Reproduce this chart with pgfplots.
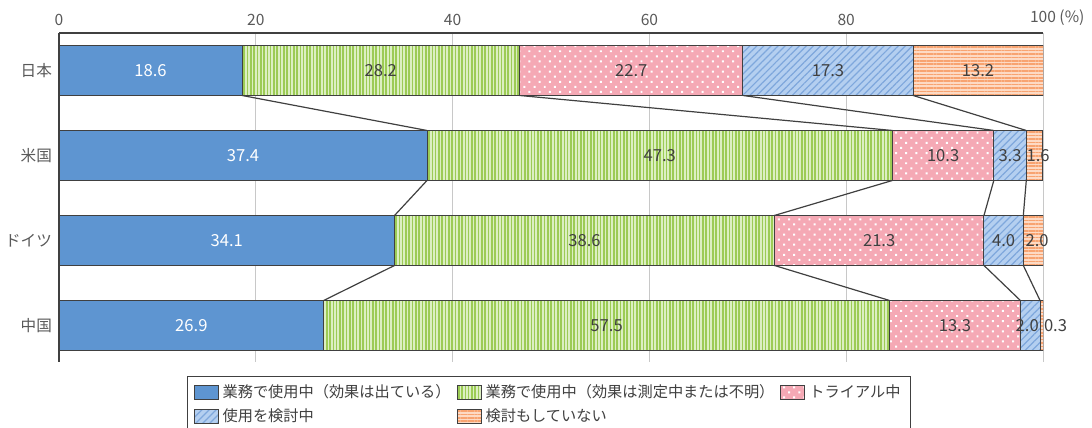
\documentclass[border=0pt]{standalone}
\usepackage{fontspec}
\setmainfont{Noto Sans CJK JP}
\usepackage{pgfplots}
\pgfplotsset{compat=1.18}
\usepackage{pgfplotstable}
\usetikzlibrary{patterns.meta}

\definecolor{cBlue}{HTML}{5E95D1}
\definecolor{cGreenBg}{HTML}{DCEFC2}
\definecolor{cGreen}{HTML}{9CCB55}
\definecolor{cPink}{HTML}{F5A9B5}
\definecolor{cHatchBg}{HTML}{B4CFF0}
\definecolor{cHatch}{HTML}{7EA7DC}
\definecolor{cOrBg}{HTML}{FDDAC4}
\definecolor{cOr}{HTML}{F8A370}
\definecolor{cLine}{HTML}{404040}
\definecolor{cText}{HTML}{595959}
\definecolor{cGrid}{HTML}{C8C8C8}

% c = category (0 Japan, 1 US, 2 Germany, 3 China), v = value, sh = extra label shift (pt)
\pgfplotstableread{
c v sh
0 18.6 0
1 37.4 0
2 34.1 0
3 26.9 0
}\tA
\pgfplotstableread{
c v sh
0 28.2 0
1 47.3 0
2 38.6 0
3 57.5 0
}\tB
\pgfplotstableread{
c v sh
0 22.7 0
1 10.3 0
2 21.3 0
3 13.3 0
}\tC
\pgfplotstableread{
c v sh
0 17.3 0
1 3.3 0
2 4.0 0
3 2.0 -1.5
}\tD
\pgfplotstableread{
c v sh
0 13.2 0
1 1.6 2
2 2.0 2
3 0.3 7
}\tE

\begin{document}
\begin{tikzpicture}
\useasboundingbox (-29.5pt,-33pt) rectangle (516.5pt,181pt);
\begin{axis}[
  at={(0pt,0pt)}, anchor=south west,
  scale only axis, width=492pt, height=164.5pt,
  xbar stacked, bar width=25pt,
  y dir=reverse,
  xmin=0, xmax=100, ymin=-0.441, ymax=3.43,
  enlargelimits=false,
  axis x line*=top, axis y line*=left,
  axis line style={draw=cLine, line width=0.6pt},
  xtick={0,20,40,60,80,100},
  xticklabels={0,20,40,60,80,{100\rlap{ (\%)}}},
  x tick label style={text=cText, font=\fontsize{7.8}{9}\selectfont},
  xmajorgrids, major grid style={draw=cGrid, line width=0.5pt},
  x tick style={draw=none},
  ytick={0,1,2,3},
  yticklabels={日本,米国,ドイツ,中国},
  y tick label style={text=cText, font=\fontsize{7.8}{9}\selectfont},
  y tick style={draw=none},
  extra y ticks={0.5,1.5,2.5,3.43},
  extra y tick labels={},
  extra y tick style={major tick length=3pt, tick align=inside, tick style={draw=cLine, line width=0.6pt}},
  lbl/.style={nodes near coords, point meta=explicit symbolic,
    visualization depends on={\thisrow{sh} \as \sh},
    every node near coord/.append style={anchor=center, xshift={(\sh)*1pt}, inner sep=0pt,
      font=\fontsize{8.3}{9}\selectfont, text=#1}},
  legend style={at={(0.498,0)}, anchor=north, yshift=-7pt, draw=cLine, line width=0.5pt,
    font=\fontsize{7.6}{9}\selectfont, text=cLine, inner xsep=3pt, inner ysep=2pt,
    /tikz/every even column/.append style={column sep=1pt}},
  legend columns=3, legend cell align=left,
  legend image code/.code={\draw[#1] (0pt,-3.3pt) rectangle (12pt,3.3pt);},
]
\addplot[fill=cBlue, draw=cLine, line width=0.5pt, lbl=white] table[x=v, y=c, meta=v] {\tA};
\addplot[fill=cGreenBg, draw=cLine, line width=0.5pt, lbl=cLine,
  postaction={pattern={Lines[angle=90, distance=1.65pt, line width=0.8pt]}, pattern color=cGreen}]
  table[x=v, y=c, meta=v] {\tB};
\addplot[fill=cPink, draw=cLine, line width=0.5pt, lbl=cLine,
  postaction={pattern={Dots[radius=0.7pt, distance=3.6pt, angle=45]}, pattern color=white}]
  table[x=v, y=c, meta=v] {\tC};
\addplot[fill=cHatchBg, draw=cLine, line width=0.5pt, lbl=cLine,
  postaction={pattern={Lines[angle=45, distance=2.5pt, line width=0.6pt]}, pattern color=cHatch}]
  table[x=v, y=c, meta=v] {\tD};
\addplot[fill=cOrBg, draw=cLine, line width=0.5pt, lbl=cLine,
  postaction={pattern={Lines[angle=0, distance=1.7pt, line width=0.8pt]}, pattern color=cOr}]
  table[x=v, y=c, meta=v] {\tE};
\legend{業務で使用中（効果は出ている）,業務で使用中（効果は測定中または不明）,トライアル中,使用を検討中,検討もしていない}

\addplot[stack plots=false, sharp plot, draw=cLine, line width=0.6pt, forget plot,
  unbounded coords=jump, mark=none] coordinates {
  (18.6,0.294) (37.4,0.706) (nan,nan)
  (46.8,0.294) (84.7,0.706) (nan,nan)
  (69.5,0.294) (95.0,0.706) (nan,nan)
  (86.8,0.294) (98.3,0.706) (nan,nan)
  (37.4,1.294) (34.1,1.706) (nan,nan)
  (84.7,1.294) (72.7,1.706) (nan,nan)
  (95.0,1.294) (94.0,1.706) (nan,nan)
  (98.3,1.294) (98.0,1.706) (nan,nan)
  (34.1,2.294) (26.9,2.706) (nan,nan)
  (72.7,2.294) (84.4,2.706) (nan,nan)
  (94.0,2.294) (97.7,2.706) (nan,nan)
  (98.0,2.294) (99.7,2.706)
};
\end{axis}
\end{tikzpicture}
\end{document}
